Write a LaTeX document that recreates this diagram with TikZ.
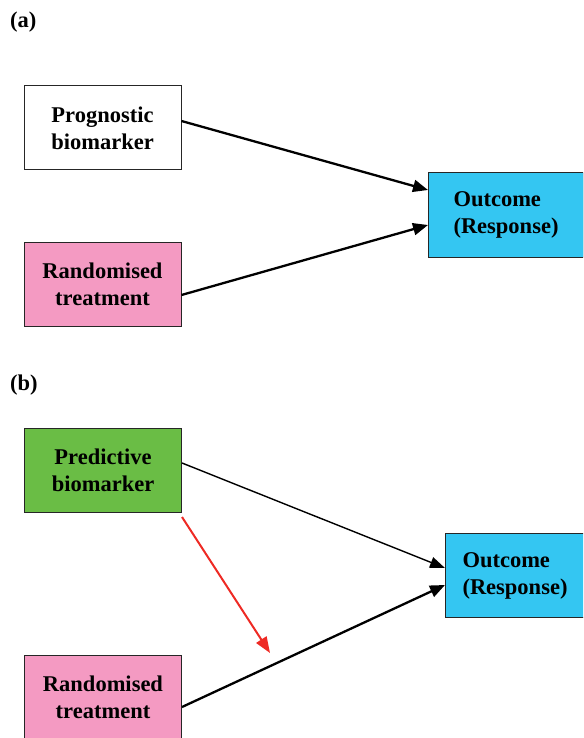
\documentclass[tikz,border=0pt]{standalone}
\usepackage{fontspec}
\setmainfont{Liberation Serif}
\usetikzlibrary{arrows.meta}
\definecolor{pinkfill}{HTML}{F49AC2}
\definecolor{bluefill}{HTML}{34C6F2}
\definecolor{greenfill}{HTML}{6ABD45}
\definecolor{redline}{HTML}{EE2A24}
\begin{document}
\begin{tikzpicture}[x=1pt,y=1pt,
  every node/.style={font=\fontsize{22.5}{27}\selectfont\bfseries},
  leftbox/.style={draw=black!85, line width=1pt, minimum width=157, minimum height=84, align=center, inner sep=0pt},
  outbox/.style={draw=black!85, line width=1pt, minimum height=84, align=left, text width=105, inner ysep=0pt},
  thickarrow/.style={line width=2.3pt, -{Triangle[length=15pt,width=12pt]}},
  thinarrow/.style={line width=1.4pt, -{Triangle[length=15pt,width=11pt]}},
  redarrow/.style={line width=2pt, draw=redline, -{Triangle[length=16pt,width=12pt]}, color=redline},
  panel/.style={anchor=west, inner sep=0pt}]
\clip (0,0) rectangle (583,-738);

% panel (a): prognostic biomarker
\node[panel] (la) at (10,-22) {(a)};
\node[leftbox, fill=white] (prog) at (102.5,-128) {Prognostic\\biomarker};
\node[leftbox, fill=pinkfill] (rta) at (102.5,-284.5) {Randomised\\treatment};
\node[outbox, fill=bluefill, inner xsep=25pt, anchor=west] (outa) at (428,-215) {Outcome\\(Response)};
\draw[thickarrow] ([yshift=7]prog.east) -- ([yshift=25]outa.west);
\draw[thickarrow] ([yshift=-10.5]rta.east) -- ([yshift=-10]outa.west);

% panel (b): predictive biomarker
\node[panel] (lb) at (10,-385) {(b)};
\node[leftbox, fill=greenfill] (pred) at (103,-470.5) {Predictive\\biomarker};
\node[leftbox, fill=pinkfill] (rtb) at (103,-697) {Randomised\\treatment};
\node[outbox, fill=bluefill, inner xsep=17pt, anchor=west] (outb) at (445,-575.5) {Outcome\\(Response)};
\coordinate (inter) at (270,-653);
\draw[thinarrow] ([yshift=7.5]pred.east) -- ([yshift=7.5]outb.west);
\draw[thickarrow] ([yshift=-10]rtb.east) -- ([yshift=-9.5]outb.west);
\draw[redarrow] ([yshift=-4]pred.south east) -- (inter);
\end{tikzpicture}
\end{document}
